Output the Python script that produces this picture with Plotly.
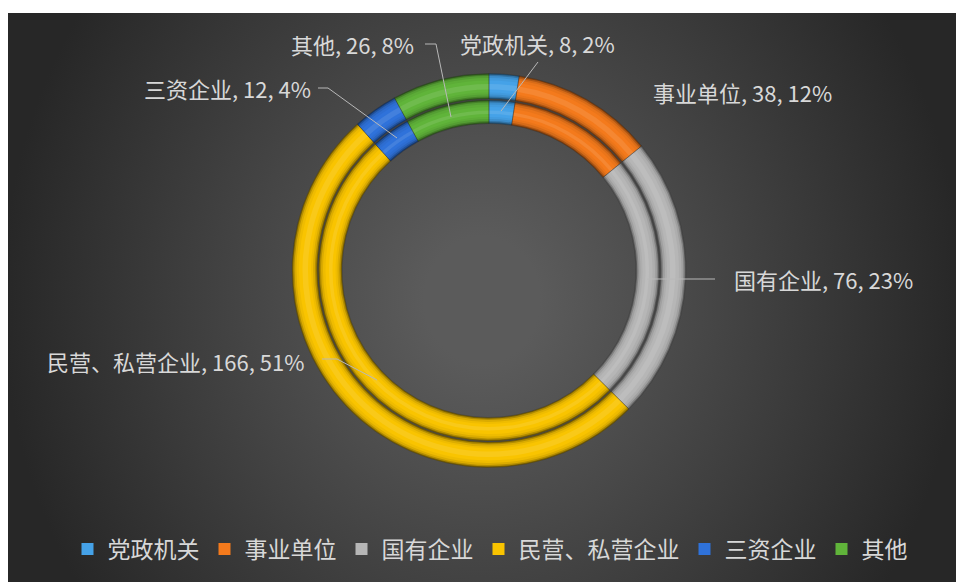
import base64
import plotly.graph_objects as go

# ---------------- data ----------------
categories = ["党政机关", "事业单位", "国有企业", "民营、私营企业", "三资企业", "其他"]
values = [8, 38, 76, 166, 12, 26]

# ---------------- styles ----------------
colors = ["#45a2e8", "#f47a1c", "#b6b6b6", "#f9c400", "#2f72da", "#60b43a"]
FONT = "Noto Sans CJK SC"
TEXT_COLOR = "#d8d8d8"
W, H = 956, 582
CX, CY = 489, 270.5            # ring centre in pixels
OUTER_BAND = (171.5, 197.0)    # radii of outer ring
INNER_BAND = (147.0, 170.5)    # radii of inner ring

# label layout: (anchor x px, y px, xanchor, leader polyline px)
label_layout = {
    "党政机关": (458, 43, "left", [(538, 62), (501, 111)]),
    "事业单位": (651, 92, "left", None),
    "国有企业": (732, 279, "left", [(647, 279), (715, 279)]),
    "民营、私营企业": (306, 361, "right", [(322, 359), (337, 359), (377, 380)]),
    "三资企业": (313, 88, "right", [(318, 88), (328, 88), (397, 138)]),
    "其他": (416, 44, "right", [(425, 44), (436, 44), (451, 117)]),
}


def hex_rgb(h):
    h = h.lstrip("#")
    return tuple(int(h[i:i + 2], 16) for i in (0, 2, 4))


def shade(h, f):
    r, g, b = hex_rgb(h)
    return "rgb(%d,%d,%d)" % (r * f, g * f, b * f)


def tint(h, f):
    r, g, b = hex_rgb(h)
    return "rgb(%d,%d,%d)" % (r + (255 - r) * f, g + (255 - g) * f, b + (255 - b) * f)


def ring_domain(r_out):
    return dict(
        x=[(CX - r_out) / W, (CX + r_out) / W],
        y=[(H - CY - r_out) / H, (H - CY + r_out) / H],
    )


fig = go.Figure()


def add_band(r_in, r_out, cols, showlegend=False, line=None):
    fig.add_trace(go.Pie(
        labels=categories, values=values, sort=False, direction="clockwise", rotation=0,
        domain=ring_domain(r_out), hole=r_in / r_out,
        marker=dict(colors=cols, line=line or dict(width=0)),
        textinfo="none", hoverinfo="skip", showlegend=showlegend,
    ))


for band_idx, (ri, ro) in enumerate([OUTER_BAND, INNER_BAND]):
    add_band(ri, ro, [shade(c, 0.5) for c in colors])
    add_band(ri + 1.2, ro - 1.2, [shade(c, 0.72) for c in colors])
    add_band(ri + 2.6, ro - 2.6, [shade(c, 0.88) for c in colors])
    add_band(ri + 4.5, ro - 4.5, [shade(c, 0.96) for c in colors])
    add_band(ri + 6.5, ro - 7, colors, showlegend=(band_idx == 0))
    add_band(ri + 9.5, ro - 10.5, [tint(c, 0.1) for c in colors])
    add_band(ri, ro, ["rgba(0,0,0,0)"] * len(colors),
             line=dict(color="rgba(40,40,40,0.3)", width=1))

# ---------------- data labels ----------------
total = sum(values)
annotations = []
shapes = []
for cat, val in zip(categories, values):
    x, y, xa, leader = label_layout[cat]
    pct = round(val / total * 100)
    annotations.append(dict(
        x=x / W, y=1 - y / H, xref="paper", yref="paper",
        xanchor=xa, yanchor="middle", showarrow=False,
        text=f"{cat}, {val}, {pct}%",
        font=dict(family=FONT, size=22, color=TEXT_COLOR),
    ))
    if leader:
        path = "M " + " L ".join(f"{px / W},{1 - py / H}" for px, py in leader)
        shapes.append(dict(type="path", path=path, xref="paper", yref="paper",
                           line=dict(color="#b8b8b8", width=1), layer="above"))

# ---------------- background gradient ----------------
BW, BH = W - 8, H - 13
GX, GY = 474, 287
svg = (
    f'<svg xmlns="http://www.w3.org/2000/svg" width="{BW}" height="{BH}">'
    '<defs><radialGradient id="g" gradientUnits="userSpaceOnUse" '
    f'cx="{GX}" cy="{GY}" r="480" '
    f'gradientTransform="translate({GX} {GY}) scale(1 1.1) translate({-GX} {-GY})">'
    '<stop offset="0.12" stop-color="#5b5b5b"/><stop offset="1" stop-color="#272727"/>'
    '</radialGradient></defs>'
    f'<rect width="{BW}" height="{BH}" fill="url(#g)"/></svg>'
)
bg_src = "data:image/svg+xml;base64," + base64.b64encode(svg.encode()).decode()

fig.update_layout(
    width=W, height=H,
    margin=dict(l=0, r=0, t=0, b=0),
    paper_bgcolor="white",
    plot_bgcolor="rgba(0,0,0,0)",
    font=dict(family=FONT, color=TEXT_COLOR),
    images=[dict(source=bg_src, xref="paper", yref="paper", x=8 / W, y=1 - 13 / H,
                 sizex=BW / W, sizey=BH / H, xanchor="left", yanchor="top",
                 sizing="stretch", layer="below")],
    annotations=annotations,
    shapes=shapes,
    legend=dict(orientation="h", x=0.5 + 12 / W, xanchor="center", y=1 - 549 / H, yanchor="middle",
                font=dict(family=FONT, size=23, color=TEXT_COLOR),
                bgcolor="rgba(0,0,0,0)", itemclick=False, itemdoubleclick=False),
)

fig.write_html("out.html")
